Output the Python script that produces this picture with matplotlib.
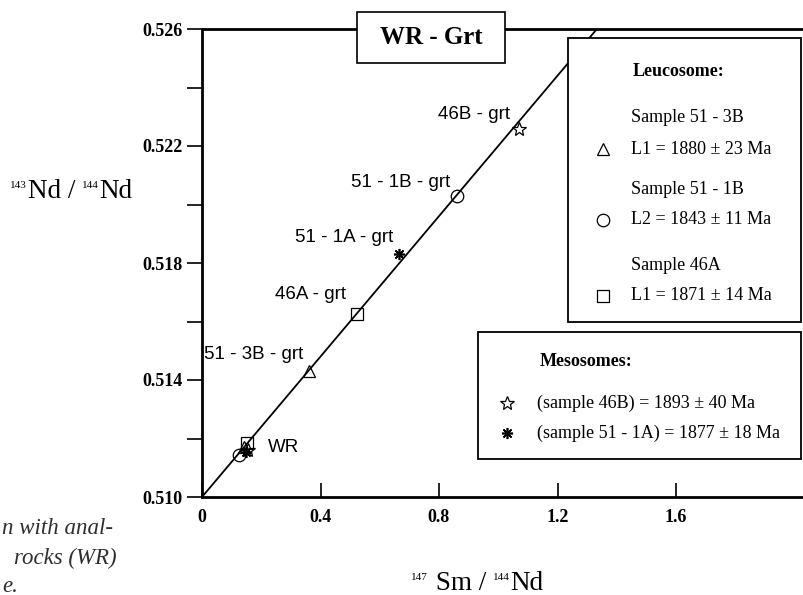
import matplotlib
matplotlib.use('Agg')
import matplotlib.pyplot as plt
from matplotlib.patches import Rectangle
from matplotlib.lines import Line2D

plt.rcParams['font.family'] = 'Liberation Serif'

# Garnet fractions (147Sm/144Nd, 143Nd/144Nd)
grt_labels = ['51 - 3B - grt', '46A - grt', '51 - 1A - grt', '51 - 1B - grt', '46B - grt']
grt_x = [0.361, 0.523, 0.665, 0.861, 1.070]
grt_y = [0.51431, 0.51626, 0.51831, 0.52029, 0.52258]

# Whole rocks, same sample order
wr_x = [0.142, 0.152, 0.149, 0.125, 0.155]
wr_y = [0.51171, 0.51185, 0.51154, 0.51144, 0.51161]

# isochron line
iso_x = [0.0, 1.333]
iso_y = [0.510, 0.526]

y_ticks = [0.510, 0.514, 0.518, 0.522, 0.526]
y_minor = [0.512, 0.516, 0.520, 0.524]
x_ticks = [0, 0.4, 0.8, 1.2, 1.6]
x_ticklabels = ['0', '0.4', '0.8', '1.2', '1.6']

W, H = 804, 595
def fx(px):
    return px / W
def fy(py):
    return 1 - py / H

fig = plt.figure(figsize=(8.04, 5.95), dpi=100)
xmax = 2.2
ax = fig.add_axes([fx(202), fy(497), xmax * 296.25 / W, (497 - 29) / H])
ax.set_xlim(0, xmax)
ax.set_ylim(0.510, 0.526)

# markers: triangle, square, asterisk, circle, star
mk = [dict(marker='^', ms=8, mfc='none', mec='black', mew=0.9),
      dict(marker='s', ms=8, mfc='none', mec='black', mew=0.9),
      dict(marker=(8, 2, 0), ms=8, mfc='black', mec='black', mew=1.2),
      dict(marker='o', ms=9, mfc='none', mec='black', mew=0.9),
      dict(marker='*', ms=10, mfc='none', mec='black', mew=0.9)]

ax.plot(iso_x, iso_y, color='black', lw=1.3, zorder=2)

for i in range(5):
    ax.plot(grt_x[i], grt_y[i], linestyle='none', zorder=3, **mk[i])
    ax.plot(wr_x[i], wr_y[i], linestyle='none', zorder=3, **mk[i])

offsets = [(-4.3, 11.5), (-8, 13.7), (-4.3, 11.5), (-5, 9.4), (-6.5, 10.8)]
for i in range(5):
    ax.annotate(grt_labels[i], (grt_x[i], grt_y[i]), xytext=offsets[i],
                textcoords='offset points', ha='right', va='center',
                fontsize=13.5, family='Liberation Sans')
ax.annotate('WR', (wr_x[1], wr_y[1]), xytext=(15, -3), textcoords='offset points',
            ha='left', va='center', fontsize=13.5, family='Liberation Sans')

for s in ['top', 'left', 'bottom', 'right']:
    ax.spines[s].set_linewidth(2)

ax.set_yticks(y_ticks)
ax.set_yticklabels(['%.3f' % v for v in y_ticks], fontsize=13, fontweight='bold')
ax.set_yticks(y_minor, minor=True)
ax.tick_params(axis='y', which='both', direction='out', length=11, width=1.2, pad=3)
ax.set_xticks(x_ticks)
ax.set_xticklabels(x_ticklabels, fontsize=13, fontweight='bold')
ax.tick_params(axis='x', direction='in', length=10, width=1.2, pad=9)

# axis titles built from pieces so the isotope numbers stay tiny
renderer = fig.canvas.get_renderer()
def isotope_label(x0, yc, parts):
    x = x0
    for txt, small in parts:
        if small:
            t = fig.text(fx(x), fy(yc - 6), txt, fontsize=8, ha='left', va='center')
        else:
            t = fig.text(fx(x), fy(yc), txt, fontsize=19.5, ha='left', va='center')
        x += t.get_window_extent(renderer).width + (1 if small else 0)

isotope_label(10, 191, [('143', True), ('Nd / ', False), ('144', True), ('Nd', False)])
isotope_label(411, 583, [('147', True), (' Sm / ', False), ('144', True), ('Nd', False)])

# title box
fig.add_artist(Rectangle((fx(357), fy(63)), (505 - 357) / W, (63 - 12) / H,
                         transform=fig.transFigure, facecolor='white',
                         edgecolor='black', lw=1.2, zorder=5))
fig.text(fx(431), fy(38), 'WR - Grt', fontsize=18, fontweight='bold',
         ha='center', va='center', zorder=6)

# Leucosome box
fig.add_artist(Rectangle((fx(568), fy(322)), (801 - 568) / W, (322 - 38) / H,
                         transform=fig.transFigure, facecolor='white',
                         edgecolor='black', lw=1.3, zorder=5))
fig.text(fx(633), fy(72), 'Leucosome:', fontsize=13, fontweight='bold', va='center', zorder=6)
leuco_rows = [('Sample 51 - 3B', 'L1 = 1880 ± 23 Ma', 117, 149, 0),
              ('Sample 51 - 1B', 'L2 = 1843 ± 11 Ma', 190, 220, 3),
              ('Sample 46A', 'L1 = 1871 ± 14 Ma', 265, 296, 1)]
for name, age, y1, y2, m in leuco_rows:
    fig.text(fx(631), fy(y1), name, fontsize=13, va='center', zorder=6)
    fig.text(fx(631), fy(y2), age, fontsize=13, va='center', zorder=6)
    fig.add_artist(Line2D([fx(603)], [fy(y2)], transform=fig.transFigure,
                          linestyle='none', zorder=6, **mk[m]))

# Mesosome box
fig.add_artist(Rectangle((fx(478), fy(459)), (801 - 478) / W, (459 - 332) / H,
                         transform=fig.transFigure, facecolor='white',
                         edgecolor='black', lw=1.3, zorder=5))
fig.text(fx(540), fy(362), 'Mesosomes:', fontsize=13, fontweight='bold', va='center', zorder=6)
meso_rows = [('(sample 46B) = 1893 ± 40 Ma', 403, 4),
             ('(sample 51 - 1A) = 1877 ± 18 Ma', 433, 2)]
for txt, yy, m in meso_rows:
    fig.text(fx(537), fy(yy), txt, fontsize=13, va='center', zorder=6)
    fig.add_artist(Line2D([fx(507)], [fy(yy)], transform=fig.transFigure,
                          linestyle='none', zorder=6, **mk[m]))

# cut-off caption on the left
fig.text(fx(113), fy(528), 'n with anal-', fontsize=16.5, style='italic',
         color='#2e2e2e', ha='right', va='center')
fig.text(fx(117), fy(558), 'rocks (WR)', fontsize=16.5, style='italic',
         color='#2e2e2e', ha='right', va='center')
fig.text(fx(2), fy(586), 'e.', fontsize=16.5, style='italic',
         color='#2e2e2e', ha='left', va='center')

fig.savefig('out.png', dpi=100)
